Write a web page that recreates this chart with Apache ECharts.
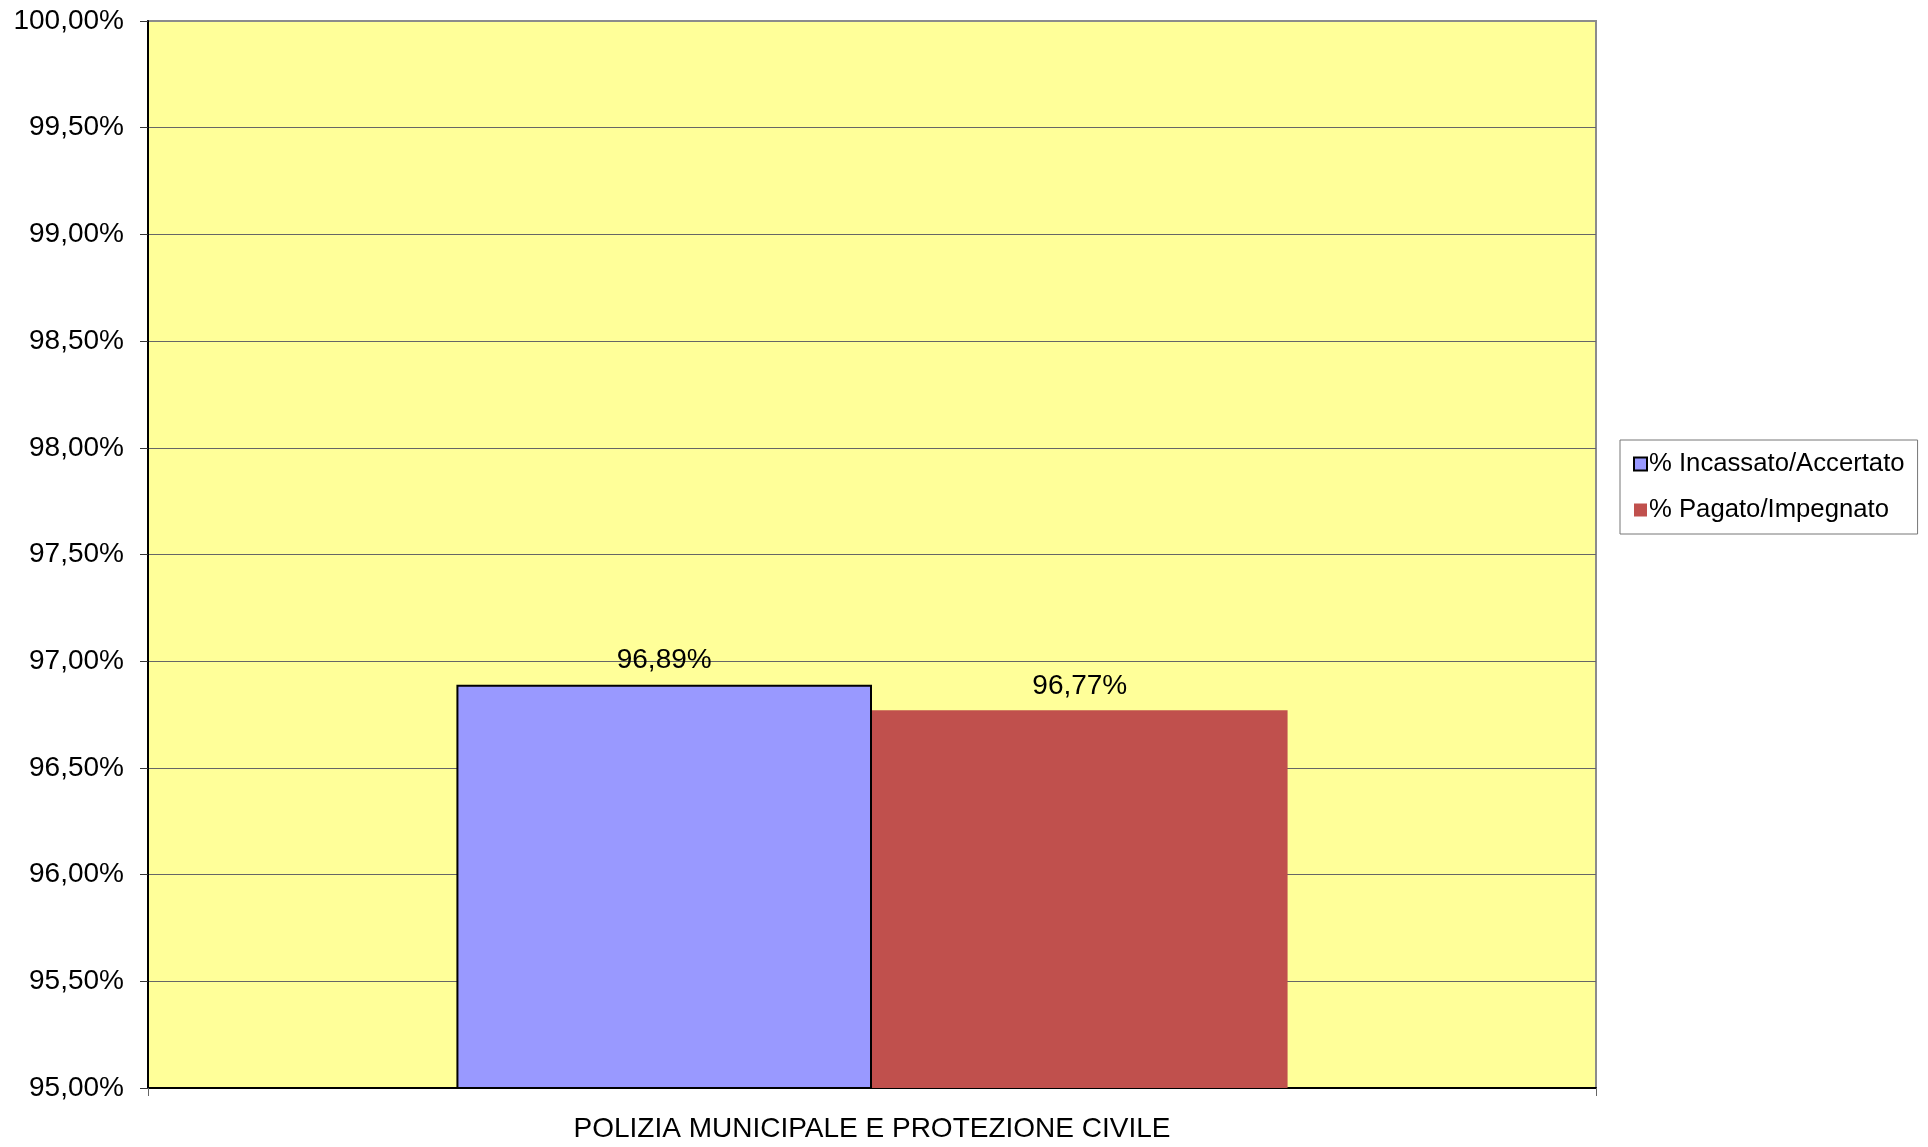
<!DOCTYPE html>
<html>
<head>
<meta charset="utf-8">
<script src="https://cdn.jsdelivr.net/npm/echarts@6/dist/echarts.min.js"></script>
<style>
  html, body { margin: 0; padding: 0; background: #fff; }
  #main { width: 1928px; height: 1147px; }
</style>
</head>
<body>
<div id="main"></div>
<script>
// dati
var categories = ['POLIZIA MUNICIPALE E PROTEZIONE CIVILE'];
var seriesNames = ['% Incassato/Accertato', '% Pagato/Impegnato'];
var incassato = [96.89];
var pagato = [96.77];

var chart = echarts.init(document.getElementById('main'));

function fmt(v) {
  return v.toFixed(2).replace('.', ',') + '%';
}

var option = {
  animation: false,
  textStyle: { fontFamily: 'Liberation Sans, Arial, sans-serif', color: '#000' },
  grid: {
    left: 148, right: 332, top: 21, bottom: 59,
    show: true,
    backgroundColor: '#FFFF99',
    borderColor: '#8c8c8c',
    borderWidth: 2
  },
  legend: {
    orient: 'vertical',
    icon: 'rect',
    left: 1620, top: 440,
    padding: [11, 13, 11, 13],
    itemGap: 20,
    itemWidth: 13,
    itemHeight: 13,
    borderColor: '#777',
    borderWidth: 1,
    textStyle: { fontSize: 25.7, color: '#000', padding: [0, 0, 0, -3] },
    data: seriesNames
  },
  xAxis: {
    type: 'category',
    data: categories,
    axisLine: { lineStyle: { color: '#000', width: 2 } },
    axisTick: { show: true, length: 8, lineStyle: { color: '#666' } },
    axisLabel: { fontSize: 28, color: '#000', margin: 27 }
  },
  yAxis: {
    type: 'value',
    min: 95, max: 100, interval: 0.5,
    axisLine: { show: true, lineStyle: { color: '#000', width: 2 } },
    axisTick: { show: true, length: 8, lineStyle: { color: '#333' } },
    axisLabel: { fontSize: 28, color: '#000', margin: 24, formatter: fmt },
    splitLine: { show: true, showMaxLine: false, lineStyle: { color: '#666', width: 1 } }
  },
  series: [
    {
      name: seriesNames[0],
      type: 'bar',
      data: incassato,
      barGap: '0%',
      barCategoryGap: '42.6%',
      itemStyle: { color: '#9999FF', borderColor: '#000', borderWidth: 2 },
      label: {
        show: true, position: 'top', distance: 10,
        fontSize: 28, color: '#000',
        formatter: function (p) { return fmt(p.value); }
      }
    },
    {
      name: seriesNames[1],
      type: 'bar',
      data: pagato,
      itemStyle: { color: '#C0504D' },
      label: {
        show: true, position: 'top', distance: 10,
        fontSize: 28, color: '#000',
        formatter: function (p) { return fmt(p.value); }
      }
    }
  ]
};

chart.setOption(option);
</script>
</body>
</html>
